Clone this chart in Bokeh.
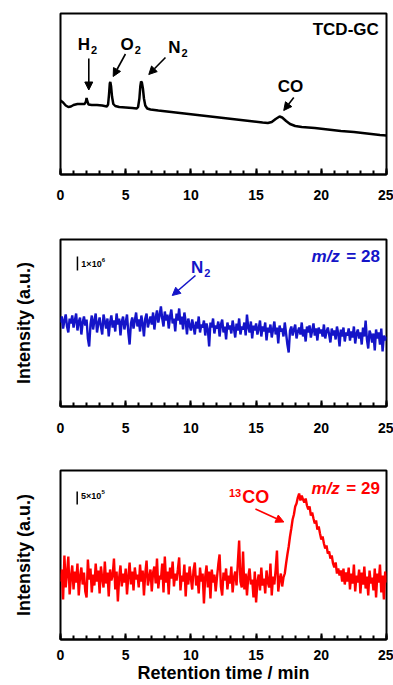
from bokeh.plotting import figure
from bokeh.layouts import column
from bokeh.models import Range1d, Label, Arrow, NormalHead, FixedTicker, ColumnDataSource
from bokeh.embed import file_html
from bokeh.resources import INLINE

FONT = "Liberation Sans"

# ---------------- data ----------------
# TCD-GC trace (retention time in min, signal in arbitrary units)
tcd_time = [0, 0.2, 0.4, 0.6, 0.8, 1.0, 1.3, 1.6, 1.85, 1.95, 2.0, 2.05, 2.15, 2.4, 2.8, 3.2,
            3.55, 3.65, 3.72, 3.78, 3.82, 3.88, 3.95, 4.05, 4.2, 4.5, 5.0, 5.5, 5.85, 5.95, 6.05,
            6.12, 6.18, 6.24, 6.32, 6.4, 6.5, 6.65, 6.9, 7.5, 8.5, 9.5, 10.5, 11.5, 12.5, 13.5,
            14.5, 15.5, 15.9, 16.2, 16.5, 16.8, 17.0, 17.3, 17.6, 18.0, 18.5, 19.5, 20.5, 21.5,
            22.5, 23.5, 24.5, 25]
tcd_signal = [74, 72, 69, 67.5, 68, 69.5, 70.5, 70.5, 70.5, 73, 76.5, 73.5, 70, 69.5, 69.5, 69,
              68, 70, 80, 91, 92.5, 88, 78, 70.5, 68.5, 67.5, 67, 66.5, 66, 67.5, 76,
              88, 93, 92, 86, 76, 69, 66, 65, 64, 62.5, 61, 59.5, 58, 56.5, 55,
              53.5, 52, 51.5, 52.5, 55.5, 58, 57, 53.5, 50.5, 48.5, 47.5, 46.5, 45, 43.5,
              42.5, 41, 39.5, 39]

# MS traces sampled every 0.1 min
ms_time = [round(i * 0.1, 1) for i in range(251)]
ms_mz28 = [84, 90, 78, 86, 92, 80, 74, 88, 83, 91,
           79, 86, 93, 76, 85, 89, 72, 84, 90, 81,
           87, 68, 60, 82, 91, 77, 86, 93, 74, 83,
           89, 80, 72, 92, 85, 78, 88, 70, 84, 91,
           79, 86, 75, 93, 82, 88, 71, 85, 90, 77,
           84, 92, 74, 62, 83, 89, 78, 86, 94, 80,
           87, 75, 91, 83, 70, 88, 93, 79, 85, 90,
           82, 94, 77, 89, 96, 84, 91, 100, 88, 80,
           95, 86, 92, 78, 90, 97, 83, 88, 75, 93,
           86, 98, 82, 90, 77, 94, 85, 72, 88, 81,
           76, 87, 80, 72, 85, 78, 90, 74, 82, 79,
           86, 71, 83, 77, 60, 84, 79, 88, 73, 81,
           78, 85, 70, 82, 87, 74, 80, 67, 84, 77,
           81, 73, 86, 78, 69, 83, 76, 88, 72, 80,
           77, 84, 71, 92, 79, 74, 85, 68, 81, 76,
           83, 72, 78, 86, 70, 80, 75, 84, 66, 79,
           74, 82, 69, 77, 85, 72, 79, 63, 81, 75,
           78, 70, 84, 73, 62, 54, 76, 80, 71, 77,
           82, 68, 75, 79, 72, 84, 70, 77, 65, 80,
           74, 81, 69, 76, 83, 71, 78, 66, 79, 73,
           77, 70, 82, 68, 75, 79, 72, 64, 78, 71,
           76, 67, 80, 73, 60, 77, 70, 79, 65, 74,
           71, 78, 66, 75, 69, 80, 63, 73, 77, 68,
           74, 62, 79, 70, 86, 67, 58, 76, 72, 64,
           73, 56, 77, 68, 74, 62, 78, 55, 71, 66,
           70]
ms_mz29 = [58, 70, 40, 84, 52, 66, 83, 45, 62, 74,
           50, 68, 57, 76, 44, 63, 72, 55, 67, 48,
           42, 80, 60, 71, 47, 65, 54, 76, 58, 69,
           46, 73, 61, 52, 78, 56, 67, 43, 70, 59,
           64, 81, 50, 68, 38, 62, 74, 53, 66, 57,
           71, 45, 63, 77, 55, 68, 49, 72, 60, 65,
           52, 75, 58, 69, 44, 66, 79, 54, 62, 70,
           48, 67, 73, 56, 81, 51, 64, 60, 76, 47,
           83, 57, 68, 45, 72, 61, 78, 53, 66, 59,
           70, 82, 49, 64, 58, 75, 43, 67, 55, 73,
           61, 50, 69, 77, 54, 64, 46, 72, 58, 66,
           36, 63, 74, 52, 68, 41, 70, 57, 65, 48,
           62, 75, 85, 53, 44, 67, 59, 71, 50, 64,
           56, 73, 47, 62, 68, 54, 77, 99, 58, 52,
           88, 50, 66, 44, 63, 71, 55, 60, 42, 68,
           37, 58, 65, 49, 72, 54, 61, 46, 69, 57,
           52, 76, 44, 63, 55, 70, 89, 48, 60, 66,
           53, 62, 66, 76, 85, 93, 103, 111, 120, 125,
           133, 136, 142, 146, 139, 144, 140, 137, 141, 134,
           130, 133, 124, 127, 121, 116, 119, 110, 113, 106,
           100, 103, 96, 91, 94, 86, 88, 81, 84, 76,
           72, 77, 66, 71, 64, 69, 58, 71, 55, 67,
           58, 72, 50, 66, 56, 75, 48, 64, 57, 70,
           46, 67, 55, 73, 51, 63, 44, 69, 56, 62,
           49, 71, 42, 66, 57, 75, 47, 64, 40, 68,
           57]

x_ticks = [0, 5, 10, 15, 20, 25]
x_minor = list(range(26))

BLACK = "#000000"
BLUE = "#1414c8"
RED = "#ff0000"


def make_fig(height, top, bottom, ymax, tick_standoff, ylabel=None, xlabel=None):
    p = figure(width=393, height=height, x_range=Range1d(0, 25), y_range=Range1d(0, ymax),
               output_backend="svg", toolbar_location=None,
               min_border_left=60, min_border_right=7,
               min_border_top=top, min_border_bottom=bottom)
    p.grid.visible = False
    p.outline_line_color = BLACK
    p.outline_line_width = 2
    p.background_fill_color = "white"
    p.border_fill_color = "white"
    xa = p.xaxis[0]
    xa.ticker = FixedTicker(ticks=x_ticks, minor_ticks=x_minor)
    xa.major_tick_in = 6
    xa.major_tick_out = 0
    xa.minor_tick_in = 4
    xa.minor_tick_out = 0
    xa.major_tick_line_width = 2
    xa.minor_tick_line_width = 2
    xa.axis_line_width = 2
    xa.axis_line_color = BLACK
    xa.major_label_text_font = FONT
    xa.major_label_text_font_style = "bold"
    xa.major_label_text_font_size = "14px"
    xa.major_label_text_color = BLACK
    xa.major_label_standoff = tick_standoff
    if xlabel:
        xa.axis_label = xlabel
        xa.axis_label_text_font = FONT
        xa.axis_label_text_font_style = "bold"
        xa.axis_label_text_font_size = "18px"
        xa.axis_label_text_color = BLACK
        xa.axis_label_standoff = 0
    ya = p.yaxis[0]
    if ylabel:
        ya.ticker = FixedTicker(ticks=[])
        ya.axis_line_color = None
        ya.major_tick_in = 0
        ya.major_tick_out = 0
        ya.minor_tick_in = 0
        ya.minor_tick_out = 0
        ya.major_label_standoff = 0
        ya.major_label_text_font_size = "0px"
        ya.axis_label = ylabel
        ya.axis_label_text_font = FONT
        ya.axis_label_text_font_style = "bold"
        ya.axis_label_text_font_size = "18px"
        ya.axis_label_text_color = BLACK
        ya.axis_label_standoff = 27
    else:
        ya.visible = False
    return p


def lab(p, x, y, text, size, color, align="center", style="bold", xo=0, yo=0):
    p.add_layout(Label(x=x, y=y, text=text, text_font=FONT, text_font_size=f"{size}px",
                       text_font_style=style, text_color=color, text_align=align,
                       text_baseline="middle", x_offset=xo, y_offset=yo))


def sublab(p, x, y, base, sub, color, size=17, subsize=11):
    lab(p, x, y, base, size, color, align="right")
    lab(p, x, y, sub, subsize, color, align="left", xo=1, yo=-6)


def arrow(p, x0, y0, x1, y1, color):
    p.add_layout(Arrow(x_start=x0, y_start=y0, x_end=x1, y_end=y1, line_color=color,
                       line_width=1.6,
                       end=NormalHead(size=8, fill_color=color, line_color=color, line_width=1)))


# ---------------- panel 1: TCD-GC ----------------
p1 = make_fig(213, 13, 39, 161, 15)
p1.line(x="t", y="s", source=ColumnDataSource(dict(t=tcd_time, s=tcd_signal)),
        line_color=BLACK, line_width=2.5)
lab(p1, 24.41, 145, "TCD-GC", 17, BLACK, align="right")
sublab(p1, 2.27, 130.5, "H", "2", BLACK)
arrow(p1, 2.17, 116, 2.17, 84.5, BLACK)
sublab(p1, 5.62, 130.5, "O", "2", BLACK)
arrow(p1, 4.98, 120.5, 4.04, 98, BLACK)
sublab(p1, 9.2, 127.5, "N", "2", BLACK)
arrow(p1, 8.05, 117, 6.77, 100, BLACK)
lab(p1, 17.64, 88, "CO", 17, BLACK)
arrow(p1, 17.89, 77, 17.12, 64, BLACK)

# ---------------- panel 2: m/z = 28 ----------------
p2 = make_fig(233, 26, 40, 167, 16, ylabel="Intensity (a.u.)")
p2.line(x="t", y="s", source=ColumnDataSource(dict(t=ms_time, s=ms_mz28)),
        line_color=BLUE, line_width=2.4)
p2.segment(x0=[1.3], y0=[136], x1=[1.3], y1=[150], line_color=BLACK, line_width=1.5)
lab(p2, 1.6, 143, "1×10", 9, BLACK, align="left")
lab(p2, 1.6, 143, "6", 6, BLACK, align="left", xo=20.5, yo=4)
lab(p2, 24.49, 150, "= 28", 17, BLUE, align="right")
lab(p2, 24.49, 150, "m/z", 17, BLUE, align="right", style="bold italic", xo=-40)
sublab(p2, 10.94, 139.5, "N", "2", BLUE)
arrow(p2, 10.35, 131, 8.57, 111, BLUE)

# ---------------- panel 3: m/z = 29 ----------------
p3 = make_fig(239, 24, 46, 169, 10, ylabel="Intensity (a.u.)", xlabel="Retention time / min")
p3.line(x="t", y="s", source=ColumnDataSource(dict(t=ms_time, s=ms_mz29)),
        line_color=RED, line_width=2.4)
p3.segment(x0=[1.28], y0=[135], x1=[1.28], y1=[148], line_color=BLACK, line_width=1.5)
lab(p3, 1.58, 144, "5×10", 9, BLACK, align="left")
lab(p3, 1.58, 144, "5", 6, BLACK, align="left", xo=20.5, yo=4)
lab(p3, 24.49, 151, "= 29", 17, RED, align="right")
lab(p3, 24.49, 151, "m/z", 17, RED, align="right", style="bold italic", xo=-40)
lab(p3, 13.93, 142.5, "CO", 18, RED, align="left")
lab(p3, 13.93, 142.5, "13", 11, RED, align="right", xo=-1, yo=4)
arrow(p3, 14.95, 130.5, 17.13, 117.5, RED)

layout = column(p1, p2, p3, spacing=0)
open("out.html", "w").write(file_html(layout, INLINE))
